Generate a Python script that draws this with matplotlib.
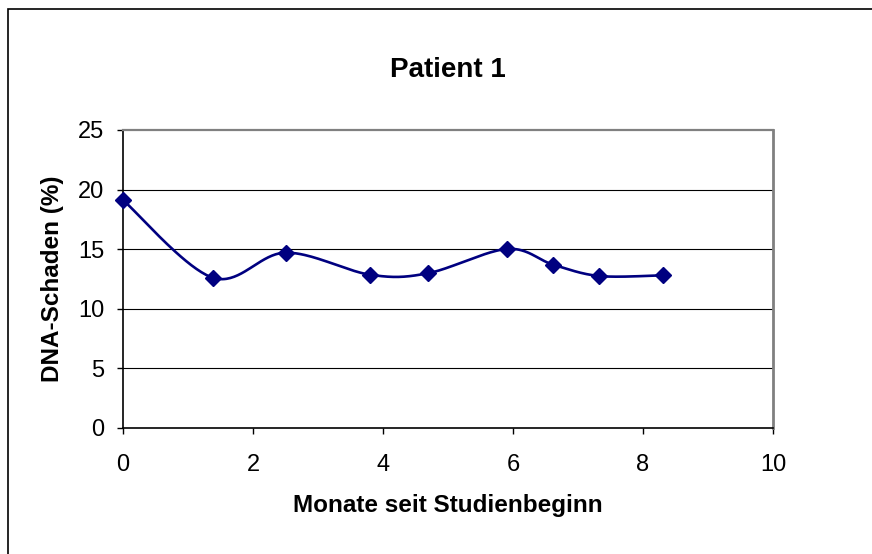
import numpy as np
import matplotlib
matplotlib.use("Agg")
import matplotlib.pyplot as plt
from matplotlib.patches import Rectangle

plt.rcParams['font.family'] = ['Liberation Sans', 'DejaVu Sans']

# Messwerte Patient 1
monate = [0.0, 1.38, 2.50, 3.80, 4.69, 5.91, 6.62, 7.33, 8.30]
schaden = [19.13, 12.61, 14.71, 12.86, 12.98, 15.02, 13.70, 12.75, 12.81]

x_ticks = [0, 2, 4, 6, 8, 10]
y_ticks = [0, 5, 10, 15, 20, 25]


def smooth_curve(xs, ys, n=40):
    """Cubic Bezier spline through the points (Catmull-Rom style)."""
    pts = np.column_stack([xs, ys])
    ext = np.vstack([pts[0], pts, pts[-1]])
    out = []
    t = np.linspace(0, 1, n)[:, None]
    for i in range(1, len(ext) - 2):
        p0, p1, p2, p3 = ext[i - 1], ext[i], ext[i + 1], ext[i + 2]
        c1 = p1 + (p2 - p0) / 6.0
        c2 = p2 - (p3 - p1) / 6.0
        seg = ((1 - t) ** 3) * p1 + 3 * ((1 - t) ** 2) * t * c1 \
            + 3 * (1 - t) * t ** 2 * c2 + t ** 3 * p2
        out.append(seg if i == 1 else seg[1:])
    curve = np.vstack(out)
    return curve[:, 0], curve[:, 1]


fig = plt.figure(figsize=(8.72, 5.54), dpi=100)
fig.patch.set_facecolor('white')

# Rahmen um das gesamte Diagramm
fig.patches.append(Rectangle((8 / 872, -0.5), 2.0, 1.5 - 9 / 554,
                             transform=fig.transFigure, fill=False,
                             edgecolor='black', linewidth=1.2, clip_on=False))

ax = fig.add_axes([123 / 872, 1 - 428 / 554, 650 / 872, 298 / 554])
ax.set_xlim(0, 10)
ax.set_ylim(0, 25)
ax.set_xticks(x_ticks)
ax.set_yticks(y_ticks)
ax.set_xticklabels([str(v) for v in x_ticks])
ax.set_yticklabels([str(v) for v in y_ticks])

for y in y_ticks[1:-1]:
    ax.axhline(y, color='black', linewidth=0.8, zorder=1)

ax.spines['left'].set_color('black')
ax.spines['bottom'].set_color('black')
ax.spines['left'].set_linewidth(1.2)
ax.spines['bottom'].set_linewidth(1.2)
ax.spines['top'].set_color('#808080')
ax.spines['right'].set_color('#808080')
ax.spines['top'].set_linewidth(1.6)
ax.spines['right'].set_linewidth(2.0)

ax.tick_params(axis='both', direction='out', length=4.5, width=1.0,
               color='black', labelsize=17, pad=9)
ax.tick_params(axis='x', pad=14)

cx, cy = smooth_curve(monate, schaden)
ax.plot(cx, cy, color='#000080', linewidth=1.9, zorder=3, clip_on=False)
ax.plot(monate, schaden, linestyle='none', marker='D', markersize=8.5,
        color='#000080', zorder=4, clip_on=False)

ax.set_title('Patient 1', fontsize=20, fontweight='bold', y=1.15)
ax.set_xlabel('Monate seit Studienbeginn', fontsize=17.5, fontweight='bold')
ax.set_ylabel('DNA-Schaden (%)', fontsize=17.5, fontweight='bold')
ax.xaxis.set_label_coords(0.5, -0.26, transform=ax.transAxes)
ax.yaxis.set_label_coords(-0.108, 0.5, transform=ax.transAxes)
ax.xaxis.label.set_va('center')
ax.yaxis.label.set_va('center')

fig.savefig('out.png', dpi=100)
